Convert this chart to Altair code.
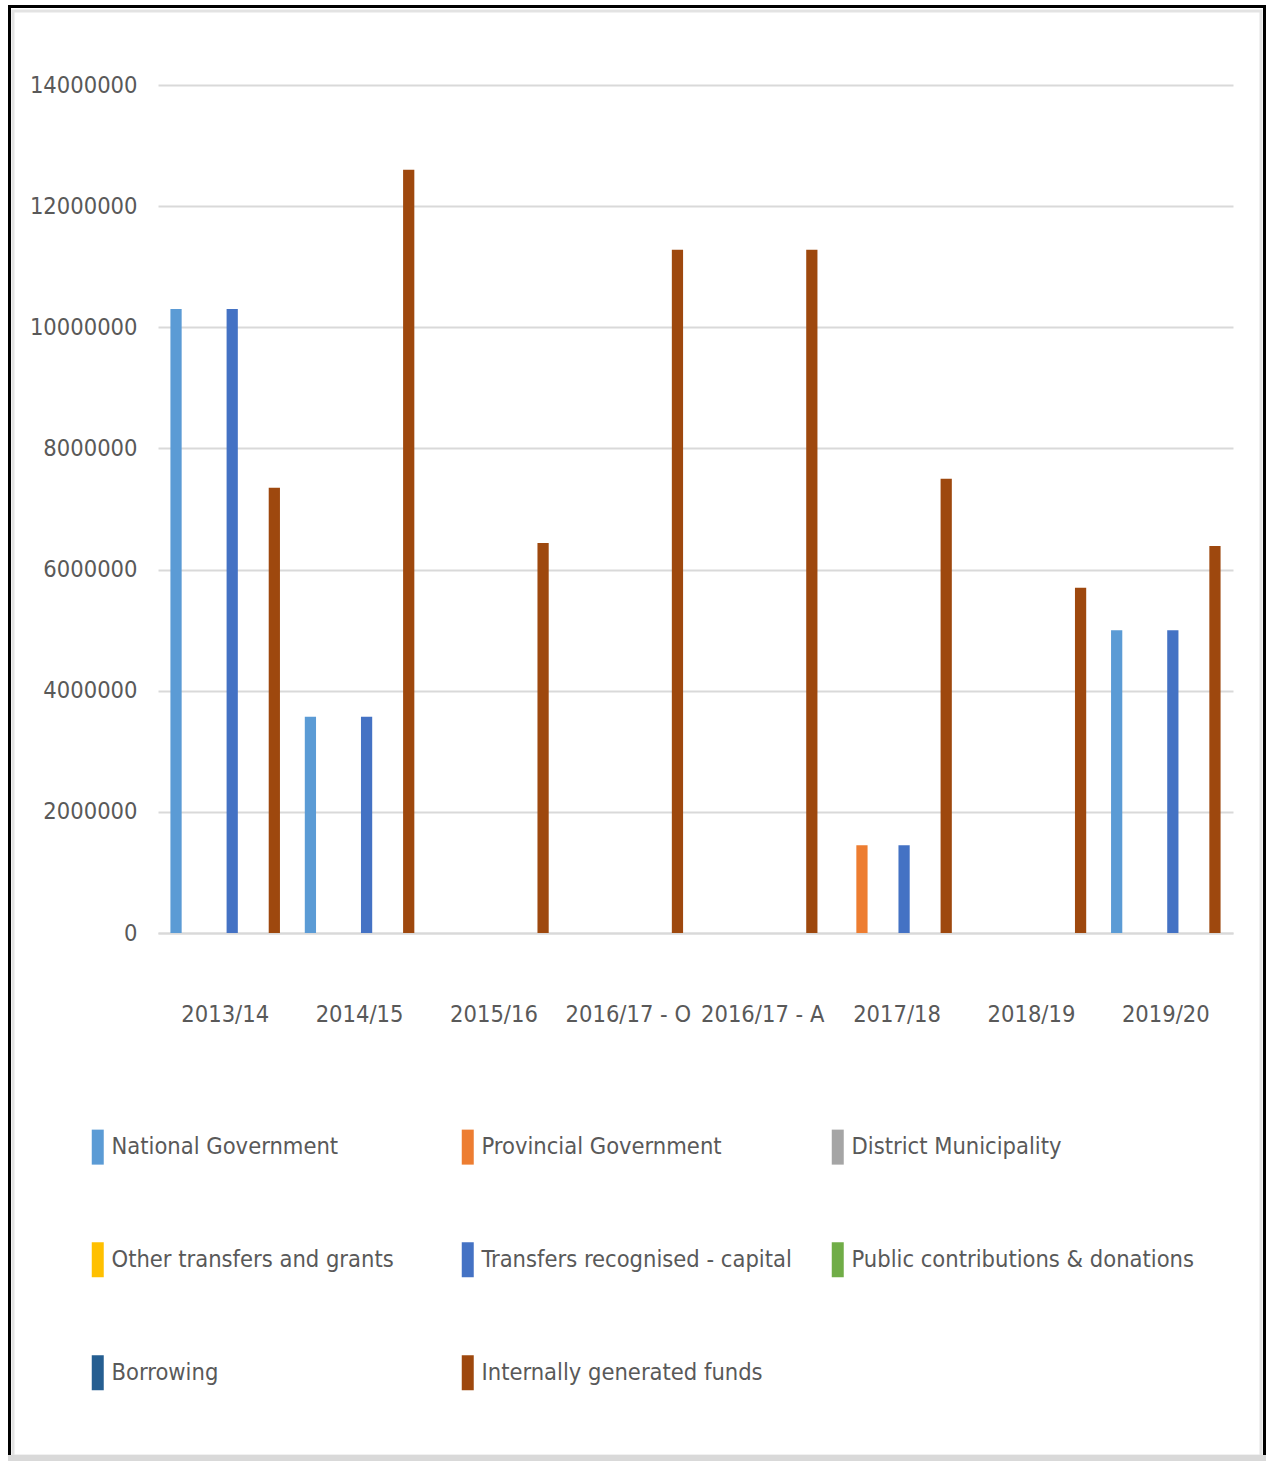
import altair as alt
import pandas as pd

years = ["2013/14", "2014/15", "2015/16", "2016/17 - O", "2016/17 - A",
         "2017/18", "2018/19", "2019/20"]
series = ["National Government", "Provincial Government", "District Municipality",
          "Other transfers and grants", "Transfers recognised - capital",
          "Public contributions & donations", "Borrowing", "Internally generated funds"]
colors = ["#5B9BD5", "#ED7D31", "#A5A5A5", "#FFC000", "#4472C4", "#70AD47",
          "#255E91", "#9E480E"]

national = [10300000, 3570000, 0, 0, 0, 0, 0, 5000000]
provincial = [0, 0, 0, 0, 0, 1450000, 0, 0]
district = [0, 0, 0, 0, 0, 0, 0, 0]
other = [0, 0, 0, 0, 0, 0, 0, 0]
transfers_capital = [10300000, 3570000, 0, 0, 0, 1450000, 0, 5000000]
public = [0, 0, 0, 0, 0, 0, 0, 0]
borrowing = [0, 0, 0, 0, 0, 0, 0, 0]
internal = [7350000, 12600000, 6440000, 11280000, 11280000, 7500000, 5700000, 6390000]

values = [national, provincial, district, other, transfers_capital, public,
          borrowing, internal]

rows = []
for s, vals in zip(series, values):
    for y, v in zip(years, vals):
        if v:
            rows.append({"year": y, "series": s, "value": v})
df = pd.DataFrame(rows)

FONT = "Liberation Sans Narrow, DejaVu Sans Condensed, sans-serif"
TXT = "#595959"
FS = 23.5
W, H = 1075, 848

bars = alt.Chart(df).mark_bar().encode(
    x=alt.X("year:N", sort=years,
            scale=alt.Scale(domain=years, paddingInner=0.164, paddingOuter=0.082),
            axis=alt.Axis(title=None, labelAngle=0, ticks=False, domain=True,
                          domainColor="#d9d9d9", domainWidth=2,
                          labelPadding=69, labelFontSize=FS, labelFont=FONT,
                          labelColor=TXT, grid=False)),
    xOffset=alt.XOffset("series:N", sort=series,
                        scale=alt.Scale(domain=series, paddingInner=0.2,
                                        paddingOuter=0.1)),
    y=alt.Y("value:Q",
            scale=alt.Scale(domain=[0, 14000000], nice=False),
            axis=alt.Axis(title=None, values=list(range(0, 14000001, 2000000)),
                          format="d", ticks=False, domain=False,
                          labelPadding=21, labelFontSize=FS, labelFont=FONT,
                          labelColor=TXT, gridColor="#d9d9d9", gridWidth=2)),
    color=alt.Color("series:N", sort=series,
                    scale=alt.Scale(domain=series, range=colors),
                    legend=alt.Legend(
                        title=None, orient="none", direction="horizontal",
                        legendX=-70, legendY=1050,
                        columns=3, gridAlign="all", columnPadding=3,
                        rowPadding=77, padding=0,
                        symbolType="M-0.8,-1.75H0.4V1.75H-0.8Z", symbolSize=400,
                        symbolStrokeWidth=0, labelOffset=0,
                        labelFontSize=FS, labelFont=FONT, labelColor=TXT,
                        labelLimit=600)),
)

frame_df = pd.DataFrame({"k": [1]})
outer = alt.Chart(frame_df).mark_rect(fill=None, stroke="black", strokeWidth=3).encode(
    x=alt.value(-148.5), x2=alt.value(1106.5), y=alt.value(-78.5), y2=alt.value(1400))
inner = alt.Chart(frame_df).mark_rect(fill=None, stroke="#e3e3e3", strokeWidth=3).encode(
    x=alt.value(-145), x2=alt.value(1103), y=alt.value(-74), y2=alt.value(1371))
bottom = alt.Chart(frame_df).mark_rect(fill="#d9d9d9").encode(
    x=alt.value(-150), x2=alt.value(1108), y=alt.value(1370), y2=alt.value(1380))

chart = alt.layer(bars, outer, inner, bottom).properties(
    width=W, height=H,
    autosize=alt.AutoSizeParams(type="none"),
    padding={"left": 158, "top": 85, "right": 33, "bottom": 528},
    background="white",
).configure_view(stroke=None)

chart.save("out.html", embed_options={"renderer": "svg", "actions": False})
